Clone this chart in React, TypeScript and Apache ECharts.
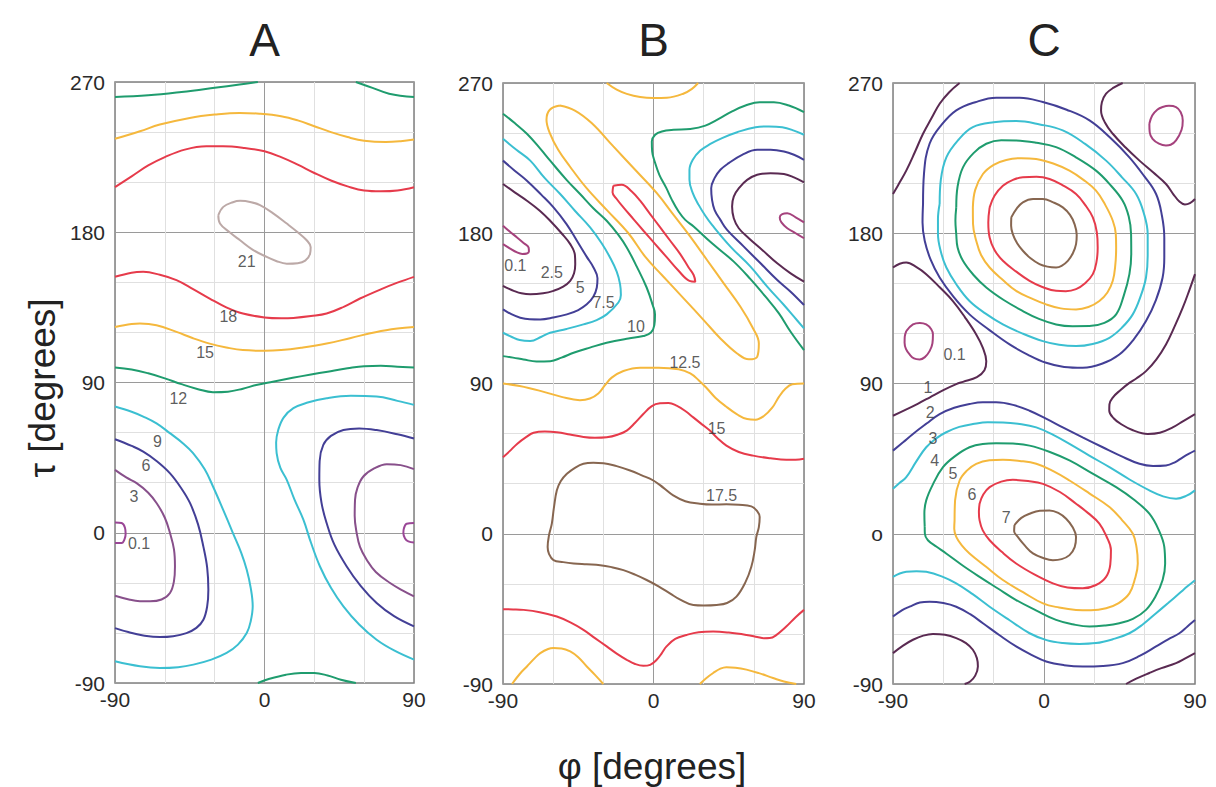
import React, { useEffect, useRef } from 'react';
import * as echarts from 'echarts';

type Pt = [number, number];

// ---------- axis / tick data ----------
const panelTitles = ['A', 'B', 'C'];
const xTickValues = [-90, 0, 90];
const yTickValues = [-90, 0, 90, 180, 270];
const yZeroTextByPanel = ['0', '0', 'o'];
const xAxisTitle = 'φ [degrees]';
const yAxisTitle = 'τ [degrees]';

// ---------- Panel A contours (φ, τ in degrees) ----------
const A_12_topLeft: Pt[] = [[-90, 261], [-70, 262], [-50, 264], [-30, 266.5], [-15, 268.5], [-4, 270]];
const A_12_topRight: Pt[] = [[55, 270], [65, 266.5], [75, 263], [90, 261]];
const A_15_top: Pt[] = [[-90, 236], [-75, 240.5], [-63, 244.5], [-45, 248.5], [-30, 250.5], [-15, 251.5], [-3, 251], [10, 249.5], [20, 247], [30, 243.5], [40, 240], [50, 237], [60, 234.8], [73, 234], [82, 234.5], [90, 235.5]];
const A_18_top: Pt[] = [[-90, 207], [-80, 213.5], [-70, 220], [-60, 225], [-48, 229.5], [-35, 231.5], [-25, 231.5], [-12, 230.5], [0, 228.5], [10, 225], [20, 220.5], [30, 215.5], [40, 211], [50, 207.5], [60, 205], [70, 204.5], [80, 205], [90, 207]];
const A_21_loop: Pt[] = [[-27.8, 190.2], [-24.8, 195.2], [-19, 198], [-14.7, 198.8], [-8, 198], [-2.7, 196.2], [5, 191.5], [13.4, 185.2], [20, 180], [25.4, 175.2], [27.8, 171], [27.4, 167], [24.5, 163], [20, 161.5], [13.4, 161.2], [7, 162.8], [1.3, 165.2], [-7, 169.5], [-14.7, 175.2], [-21, 180], [-26.8, 185.2], [-27.8, 190.2]];
const A_18_bottom: Pt[] = [[-90, 153.3], [-80, 155.8], [-73, 156.3], [-63, 154.5], [-53, 151.3], [-43, 146], [-33, 140.3], [-23, 135], [-13, 131.3], [0, 129], [10, 128.5], [17.4, 128.7], [28, 129.8], [37.4, 131.3], [48, 135.5], [57.5, 140.3], [70, 145.8], [80, 149.8], [90, 153.3]];
const A_15_bottom: Pt[] = [[-90, 123.3], [-80, 125], [-75, 125.3], [-65, 124.3], [-53, 120.3], [-43, 116.5], [-33, 113.3], [-23, 111], [-13, 109.4], [0, 109], [10, 109.4], [22, 110.8], [37.4, 113.3], [52, 116.7], [67.5, 120.3], [80, 122.3], [90, 123.3]];
const A_12_mid: Pt[] = [[-90, 99], [-80, 97.8], [-70, 95.5], [-60, 92.5], [-50, 89], [-40, 86], [-31, 84.2], [-22, 84.5], [-13, 86.3], [-5, 88.5], [5, 90.5], [17, 92.8], [28, 94.8], [38, 96.5], [50, 98.5], [60, 99.8], [70, 100], [80, 99.5], [90, 99]];
const A_12_bottom: Pt[] = [[-4, -90], [3, -87.5], [13, -85], [22, -84], [30, -84], [38, -85.5], [46, -88], [55, -90]];
const A_9_left: Pt[] = [[-90, 75.6], [-80, 72.5], [-73, 69.6], [-65, 65.5], [-57, 59.7], [-49, 53.5], [-43, 47.7], [-36, 38], [-31, 27.7], [-25, 14], [-19, -0.2], [-14, -12], [-10.7, -22.2], [-8.3, -33], [-7.1, -44.1], [-8.3, -53], [-10.7, -60.1], [-16, -67], [-22.8, -72], [-32, -76], [-42.8, -79], [-52, -80.5], [-63, -81], [-75, -80], [-90, -77]];
const A_9_right: Pt[] = [[90, 76.6], [80, 79], [67.5, 81.6], [52, 82], [37.4, 80.6], [26, 78], [17.4, 74.6], [11.5, 69], [8.3, 61.7], [7, 54], [7.3, 47.7], [9.5, 39], [13.4, 31.7], [18, 20], [23.4, 7.8], [28, -6], [33.4, -20.2], [40, -33], [47.5, -44.1], [57, -55], [67.5, -64.1], [78, -70.5], [90, -76]];
const A_6_left: Pt[] = [[-90, 56], [-80, 52], [-73, 48.6], [-65, 43], [-57, 35.7], [-50, 26.5], [-44.8, 17.7], [-40, 5], [-36.8, -8.3], [-34.5, -21], [-33.8, -34.1], [-34.5, -44], [-36.8, -52.1], [-41, -57], [-47, -60.1], [-55, -62], [-63, -62.5], [-73, -61.5], [-82, -59.5], [-90, -57.1]];
const A_6_right: Pt[] = [[90, 56.5], [80, 59], [67.5, 61.5], [57, 62.5], [47.5, 61.5], [40, 58], [35.4, 52.6], [33.2, 43], [33, 31.7], [34.3, 18], [37.4, 5.8], [42, -7], [49.5, -20.2], [58, -32], [67.5, -42.1], [78, -50], [90, -56.1]];
const A_3_left: Pt[] = [[-90, 37.7], [-83, 33], [-77, 29.7], [-70, 24], [-64.9, 17.7], [-60, 9], [-56.9, -0.2], [-54.5, -10], [-53.9, -20.2], [-54.5, -29], [-56.9, -36.1], [-62, -40], [-68.9, -41.1], [-75, -41], [-81, -40.1], [-90, -37.7]];
const A_3_right: Pt[] = [[90, 38.1], [82, 40.5], [73.6, 41.1], [66, 38.5], [59.5, 33.7], [56, 27], [54.5, 19.7], [54.3, 10], [55.5, -0.2], [57.5, -8.5], [61.5, -16.2], [67, -23.5], [75.6, -30.1], [83, -34.5], [90, -38.1]];
const A_01_left: Pt[] = [[-90, 6.2], [-86, 5.8], [-84, 3], [-83.6, -0.6], [-84.3, -4], [-86, -6.2], [-90, -6.2]];
const A_01_right: Pt[] = [[90, 5.8], [85.6, 5.4], [83.9, 2.5], [83.6, -0.2], [84.6, -3.5], [86.6, -5.2], [90, -5.8]];
const A_labels: [number, number, string][] = [[-10.7, 162.2, '21'], [-21.8, 129.7, '18'], [-35.8, 107.8, '15'], [-51.9, 80.2, '12'], [-64.5, 54.7, '9'], [-71.3, 40.1, '6'], [-78.6, 21.8, '3'], [-75.5, -6.6, '0.1']];

// ---------- Panel B contours ----------
const B_125_top: Pt[] = [[-28, 270], [-22, 266], [-16, 263.5], [-8, 261.6], [0, 261], [8, 261.2], [17.8, 263.6], [23, 266.5], [26.7, 270]];
const B_125_loop: Pt[] = [[-56, 256.5], [-47, 253.5], [-37, 246], [-24, 232], [-10, 217], [2, 204], [12, 191], [22, 178], [32, 164], [42, 150], [52, 136], [59, 124], [63, 114], [62, 106], [57, 104.5], [50, 108], [40, 117], [30, 128], [18, 141], [5, 155], [-5, 166], [-15, 180], [-28, 194], [-40, 207], [-50, 220], [-57, 230], [-62, 240], [-64, 248], [-62, 254], [-56, 256.5]];
const B_15_loop: Pt[] = [[-24, 208.5], [-19, 209.1], [-13, 205], [-8, 199.5], [-2, 191.5], [4, 183.5], [10, 175.5], [16, 167.5], [21, 159.5], [24, 155], [25, 151], [21.5, 151.5], [15, 157.5], [8, 165.5], [1, 173.5], [-6, 181.5], [-12, 188.5], [-18, 195.5], [-22, 200.5], [-24.5, 204.5], [-24, 208.5]];
const B_10_left: Pt[] = [[-90, 251.6], [-83, 246], [-75.7, 239.6], [-68, 231], [-61.8, 223.5], [-52, 212], [-43.9, 203.5], [-36, 195], [-28, 187.5], [-21, 179], [-16, 171.5], [-10, 160], [-4.1, 147.5], [-0.5, 137], [0.9, 131.4], [0.5, 125], [-1.5, 120.5], [-6.1, 118.4], [-15, 117], [-28, 114.4], [-38, 111.5], [-47.8, 108.4], [-55, 105.5], [-61.8, 103.4], [-70, 103.2], [-77.7, 104.4], [-84, 105.5], [-90, 106.4]];
const B_75_left: Pt[] = [[-90, 236.6], [-82, 230], [-73.7, 223.5], [-65, 213], [-55.8, 203.5], [-47, 193.5], [-37.9, 183.5], [-31, 174], [-26, 165.5], [-22, 157], [-20, 149.5], [-19.5, 143], [-21, 138.5], [-28, 131.4], [-34, 128], [-41.9, 125.4], [-52, 122.7], [-61.8, 120.4], [-67, 118], [-73.7, 115.4], [-80, 116], [-85, 118], [-90, 120.4]];
const B_5_left: Pt[] = [[-90, 223.5], [-83, 217.5], [-75.7, 211.5], [-67, 203], [-59.8, 195.5], [-52, 185.5], [-45.8, 175.5], [-40, 166], [-35.9, 159.5], [-33.5, 153], [-33.9, 147.5], [-36, 142], [-39.9, 137.4], [-45, 134], [-51.8, 131.4], [-60, 129.5], [-67.7, 128.4], [-74, 128.5], [-79.7, 129.4], [-85, 131.5], [-90, 134.4]];
const B_25_left: Pt[] = [[-90, 209.5], [-83, 204.5], [-75.7, 199.5], [-68, 193.5], [-61.8, 187.5], [-55, 180], [-49.8, 173.5], [-47, 167], [-46.8, 161.5], [-47.5, 156], [-49.8, 151.5], [-54, 148], [-59.8, 145.5], [-66, 144], [-73.7, 143.4], [-79, 144], [-83.6, 145.5], [-87, 147], [-90, 148.5]];
const B_01_left: Pt[] = [[-90, 184.5], [-86, 181], [-81.6, 177.5], [-77.5, 174], [-74.7, 171.5], [-74.5, 169], [-75.7, 167.9], [-78.5, 167.6], [-81.6, 168.5], [-86, 171], [-90, 173.5]];
const B_10_right: Pt[] = [[90, 252.6], [81, 256.5], [72, 258.5], [63.5, 258.5], [55, 256.5], [47, 253], [39, 248.5], [31, 244.5], [22, 242.5], [12, 242], [5, 241], [1, 239], [-1, 235], [-0.8, 229], [0.7, 223], [3.5, 215], [7.7, 207], [11, 200], [15, 193], [19, 188], [24, 184], [35, 174], [48, 163], [58, 152.5], [67, 142], [75, 132], [82, 121], [90, 110]];
const B_75_right: Pt[] = [[90, 239], [84, 241.5], [77, 243.5], [69, 244], [61, 243.5], [50, 240.5], [41, 237], [34, 233.5], [28, 229.5], [23.5, 224], [21.5, 218], [21.5, 212], [23.5, 204], [27, 197], [31, 190.5], [35, 185], [46, 172], [58, 160], [68, 148], [78, 137], [84, 130], [90, 123]];
const B_5_right: Pt[] = [[90, 224], [84, 227], [78, 229], [70, 230], [62, 230], [53, 227], [45, 222], [40, 218], [36.5, 213], [34.5, 207], [35, 200], [36.5, 194], [40, 188], [44, 182], [54, 172], [64, 162], [74, 152], [82, 145], [90, 137]];
const B_25_right: Pt[] = [[90, 210.5], [84, 213.5], [78, 215.5], [70, 216], [62, 215], [56, 212], [51.5, 207.5], [48, 202], [47, 196], [48, 189], [51, 183], [57, 177], [65, 170], [74, 162], [82, 156], [90, 151]];
const B_01_right: Pt[] = [[90, 186.5], [85, 189.5], [80, 192], [77, 191.5], [75.5, 189.5], [76.5, 186.5], [80, 183], [85, 180], [90, 177]];
const B_125_mid: Pt[] = [[-90, 90], [-80, 88.5], [-67.7, 85.6], [-55, 82], [-44, 80], [-38, 81], [-33, 84], [-29, 89], [-25, 93.5], [-18, 97.5], [-8, 99.5], [3, 99.5], [15, 98.5], [22, 96], [27, 92], [32, 87], [37, 81.5], [43, 76.5], [50, 71.5], [56, 68.7], [61, 68.3], [66, 70.5], [71, 75.5], [75, 82], [79, 87], [83, 89.5], [90, 90]];
const B_15_mid: Pt[] = [[-90, 45.8], [-86, 49.5], [-81.6, 53.8], [-76, 58], [-71.7, 60.5], [-65, 61.2], [-57.8, 60.8], [-50, 59.5], [-41.9, 58], [-35, 57.5], [-28, 57.8], [-21, 59.5], [-16, 61.8], [-11, 66.5], [-6.1, 71.7], [-1, 76.5], [3.9, 78.1], [9, 78.3], [13.8, 76.7], [19, 73.5], [23.8, 69.7], [29, 65.5], [33.7, 61.8], [38, 57.5], [43.6, 52.8], [51, 49], [59.6, 46.8], [70, 45.2], [79.4, 44.3], [85, 44.3], [90, 44.9]];
const B_175_loop: Pt[] = [[-51.8, 35.9], [-47, 39.5], [-41.9, 41.9], [-36, 42.5], [-29.9, 42.3], [-22, 40.5], [-14, 37.9], [-7, 35], [-0.1, 31.9], [6, 27.5], [11.8, 23], [19, 19.5], [27.7, 18], [35, 17.5], [43.6, 17.6], [51, 17.3], [58.5, 16.4], [62, 13.5], [63.5, 10], [63, 4], [61.5, -1.9], [60.5, -10], [58.5, -19.8], [55, -29], [49.6, -37.7], [44, -41.5], [37.7, -42.7], [30, -43], [23.8, -42.7], [16, -39.5], [9.8, -35.7], [3, -31.5], [-4.1, -27.7], [-11, -24.5], [-18, -21.8], [-25, -20], [-31.9, -18.8], [-40, -18.3], [-47.8, -17.8], [-54, -17], [-59.8, -15.8], [-62.5, -12], [-63.3, -7.9], [-62.5, -1], [-60.8, 6.1], [-59.5, 16], [-57.8, 26], [-55.5, 31.5], [-51.8, 35.9]];
const B_15_bottom: Pt[] = [[-90, -45.2], [-84, -45.3], [-77.7, -45.6], [-68, -47], [-57.8, -49.6], [-50, -53], [-41.9, -57.6], [-35, -62.5], [-28, -67.5], [-22, -71.8], [-16, -75.5], [-11, -78], [-6.1, -79.1], [-2, -78.5], [1.9, -75.5], [5, -71.5], [7.8, -67.5], [13, -63], [19.8, -60.6], [27, -59], [35.7, -58.6], [45, -59.2], [55.6, -60.6], [62, -61.8], [66, -62.6], [69.5, -62.5], [73, -61], [79.4, -55.6], [85, -50], [90, -45.6]];
const B_125_bottomLeft: Pt[] = [[-84.6, -90], [-80, -84], [-75.7, -79.5], [-71, -74.5], [-67.7, -71.5], [-63, -69], [-59.8, -68.5], [-55, -68.7], [-49.8, -70.5], [-45, -74], [-39.9, -79.5], [-35, -84.5], [-30, -90]];
const B_125_bottomRight: Pt[] = [[27.7, -90], [31.5, -86.5], [35.7, -83.4], [40, -80.8], [43.6, -79.9], [49, -80.2], [55.6, -81.4], [63, -83.5], [71.5, -86.4], [78, -88.5], [85.4, -90]];
const B_labels: [number, number, string][] = [[-82.6, 160.5, '0.1'], [-60.8, 156.5, '2.5'], [-43.9, 147.5, '5'], [-29.9, 138.4, '7.5'], [-10.5, 124.1, '10'], [18.8, 102.4, '12.5'], [37.7, 62.8, '15'], [40.7, 23, '17.5']];

// ---------- Panel C contours ----------
const C_7_top: Pt[] = [[-19.5, 189.5], [-16.5, 194.5], [-12.6, 198.5], [-6.5, 200.5], [-0.7, 200.5], [5.5, 198.5], [11.2, 195.5], [15.5, 191], [18.2, 185.5], [19.5, 179], [19.1, 173.5], [17.2, 168], [14.2, 163.5], [10.5, 160.5], [7.2, 159.5], [2, 160], [-2.7, 161.5], [-8, 165], [-12.6, 169.5], [-16, 174], [-18.6, 179.5], [-19.6, 184.5], [-19.5, 189.5]];
const C_6_top: Pt[] = [[-32.4, 195.5], [-29.5, 202.5], [-24.5, 208.5], [-18.5, 212], [-12.6, 213.5], [-4.5, 213.8], [3.3, 212.5], [11.5, 208.5], [19.1, 203.5], [24.5, 197], [29.1, 189.5], [31.5, 180.5], [32, 171.5], [31.3, 163], [29.1, 155.5], [24.5, 150], [19.1, 146.5], [13, 145.3], [7.2, 145.5], [-1, 147.8], [-8.6, 151.5], [-16.5, 157], [-24.5, 163.5], [-29.5, 170], [-32.4, 177.5], [-33.2, 186.5], [-32.4, 195.5]];
const C_5_top: Pt[] = [[-42.4, 195.5], [-41, 206], [-36.4, 215.5], [-30, 221], [-22.5, 223.9], [-13.5, 225], [-4.7, 224.5], [5.5, 221.8], [15.2, 217.5], [23.5, 212], [31, 205.5], [36.5, 197], [41, 187.5], [42.8, 179.5], [43, 171.5], [42.5, 161], [41, 151.5], [37.8, 144.5], [33, 139.4], [26.5, 135.8], [19.1, 134.4], [10, 135], [1.3, 137.4], [-7.5, 141], [-16.6, 145.5], [-24.5, 152], [-32.4, 159.5], [-37.5, 167], [-40.4, 175.5], [-42.3, 185.5], [-42.4, 195.5]];
const C_4_top: Pt[] = [[-52.3, 195.5], [-51.5, 208], [-48.3, 219.5], [-42, 228], [-34.4, 233.6], [-25.5, 235.7], [-16.6, 235.6], [-4.5, 234.2], [7.2, 231.6], [19, 225.5], [31, 217.5], [39.5, 209], [46.9, 199.5], [50.5, 190], [51.9, 179.5], [52, 167.5], [50.9, 155.5], [47.5, 142.5], [43, 131.4], [36, 126.3], [27.1, 124.4], [17, 124.3], [7.2, 125.4], [-3, 128.7], [-12.6, 133.4], [-24, 140], [-34.4, 147.5], [-42, 155], [-48.3, 163.5], [-51.5, 171.5], [-52.3, 179.5], [-52.8, 187.5], [-52.3, 195.5]];
const C_3_top: Pt[] = [[-62.2, 197.5], [-61.5, 212], [-58.2, 225.5], [-51, 236], [-42.4, 243.6], [-30, 246.5], [-16.6, 247.2], [-2.5, 245.2], [11.2, 241.6], [24.5, 233.5], [37, 223.5], [46.5, 213.5], [54.9, 203.5], [59.5, 192], [61.8, 179.5], [61.8, 166.5], [60.8, 153.5], [57.5, 142], [52.9, 131.4], [46.5, 123.5], [39, 117.4], [29, 113.7], [19.1, 112.4], [9, 113.2], [-0.7, 115.4], [-12.5, 119.8], [-24.5, 125.4], [-35, 132], [-44.4, 139.4], [-52, 149], [-58.2, 159.5], [-61.5, 169], [-63.2, 179.5], [-63.2, 188.5], [-62.2, 197.5]];
const C_2_top: Pt[] = [[-72.1, 197.5], [-71.5, 216], [-68.2, 233.6], [-61, 245], [-52.3, 253.6], [-41, 258.5], [-28.5, 261.2], [-14.5, 261.2], [-0.7, 258.6], [13.5, 254], [27.1, 247.6], [39.5, 237.2], [50.9, 225.5], [59.5, 214.5], [66.8, 203.5], [70.3, 190.5], [71.7, 177.5], [71.7, 165.5], [70.7, 153.5], [66.7, 140], [60.8, 127.4], [53.5, 116.5], [44.9, 107.4], [34.5, 101.8], [23.1, 99.4], [12, 99.9], [1.3, 102.4], [-9.5, 107.2], [-20.5, 113.4], [-32.5, 122], [-44.4, 131.4], [-54, 142], [-62.2, 153.5], [-67.5, 164], [-71.1, 175.5], [-72.4, 186.5], [-72.1, 197.5]];
const C_1_topLeft: Pt[] = [[-90, 203.5], [-86, 210.5], [-82.1, 217.5], [-77, 228.5], [-72.1, 239.6], [-67, 249], [-62.2, 257.6], [-56.5, 264.5], [-50.3, 270]];
const C_1_topRight: Pt[] = [[46.9, 270], [41.5, 267.2], [37, 263.6], [34.5, 258.5], [34, 253.6], [36.5, 246], [41, 239.6], [48.5, 231.5], [56.9, 223.5], [65, 216.5], [72.7, 209.5], [77, 203.5], [80.7, 199], [84, 197.2], [87, 198], [90, 200.5]];
const C_01_topRight: Pt[] = [[62.8, 245.6], [64.5, 250.5], [67.5, 254], [70.7, 255.6], [74.5, 256.3], [78.7, 255.6], [81.5, 252.5], [82.7, 247.6], [82, 242], [78.7, 235.6], [75.5, 233], [72.7, 232.6], [68.5, 233.7], [64.7, 236.6], [63, 240.5], [62.8, 245.6]];
const C_1_midLeft: Pt[] = [[-90, 159.5], [-86, 161.7], [-82.1, 162.5], [-76, 159.7], [-70.2, 155.5], [-62, 147.5], [-54.3, 139.4], [-47, 129.5], [-40.4, 119.4], [-36.5, 111.5], [-34.4, 103.4], [-35.5, 98], [-40, 93.8], [-48.3, 91], [-52.3, 89.6], [-60, 86], [-68.2, 81.6], [-75, 78], [-82, 74.5], [-90, 70.7]];
const C_01_midLeft: Pt[] = [[-82.1, 121.4], [-78.1, 125.4], [-74, 126.3], [-70.2, 125.4], [-67.2, 122.5], [-66.2, 119.4], [-66.5, 114], [-68.2, 109.4], [-71, 105.8], [-74.1, 104.4], [-77.5, 105], [-80.1, 107.4], [-82.3, 110.8], [-83.1, 114.4], [-83, 118], [-82.1, 121.4]];
const C_1_midRight: Pt[] = [[90, 155.5], [86.5, 145.5], [82.7, 135.4], [78, 124.5], [72.7, 113.4], [67, 104.5], [60.8, 97.4], [55, 93], [50.9, 90.4], [45.5, 86], [41, 81.6], [39, 77.5], [38.9, 73.7], [41.5, 69.2], [45.9, 65.7], [53, 62], [61.8, 59.8], [69, 60.5], [76.7, 63.7], [83, 67.5], [90, 71.7]];
const C_7_bottom: Pt[] = [[-17.6, 5.2], [-13.5, 9.5], [-8.6, 12], [-2.5, 13.8], [3.3, 14], [8.5, 12.5], [13.2, 9], [17, 4], [19.1, -2], [18.3, -8], [15.2, -12.8], [10.5, -15.2], [5.3, -15.8], [-0.5, -14.5], [-6.6, -11.8], [-11.5, -7], [-15.6, -1.9], [-17.8, 1.5], [-17.6, 5.2]];
const C_6_bottom: Pt[] = [[-38.4, 18], [-36.2, 23.5], [-32.4, 27.9], [-25.5, 31.2], [-18.6, 32.3], [-9.5, 31.6], [-0.6, 29.9], [9.5, 25], [19.1, 18], [26.5, 12.2], [33, 6.1], [37.2, -1.5], [39.9, -9.8], [39.5, -18.5], [37, -25.8], [31, -30.7], [23.1, -32.7], [14, -32.2], [5.3, -29.7], [-5.5, -24.5], [-16.6, -17.8], [-25, -11], [-32.4, -3.9], [-36.5, 2], [-38.4, 8], [-38.8, 13], [-38.4, 18]];
const C_5_bottom: Pt[] = [[-53.3, 8], [-53, 20], [-50.3, 31.9], [-46, 37.8], [-40.4, 41.9], [-32.5, 44], [-24.5, 44.3], [-14.5, 43.6], [-4.6, 41.9], [5.5, 37.5], [15.2, 31.9], [27, 24.2], [39, 16], [46.5, 8.2], [52.9, 0.1], [55.2, -8.5], [55.9, -17.8], [54.2, -27], [50.9, -35.7], [44.5, -41.5], [37, -44.6], [28, -45.8], [19.1, -45.6], [9, -44.2], [-0.6, -41.7], [-12.5, -35], [-24.5, -27.7], [-34.5, -19.8], [-44.4, -11.8], [-49, -7], [-52.3, -1.9], [-53.5, 3], [-53.3, 8]];
const C_4_bottom: Pt[] = [[-71.1, 4.1], [-71.3, 12], [-70.2, 20], [-66, 30], [-60.2, 39.9], [-53, 46.5], [-44.4, 51.8], [-36.5, 53.8], [-28.5, 54.2], [-18.5, 54], [-8.6, 52.8], [3.5, 49], [15.2, 43.9], [29, 36], [43, 27.9], [53.5, 20.5], [62.8, 12], [68.5, 2], [71.7, -7.9], [72.2, -18], [70.7, -27.7], [66.5, -37.5], [60.8, -45.6], [53, -51], [44.9, -53.6], [36, -55], [27.1, -55.6], [17, -54.2], [7.2, -51.6], [-4.5, -46], [-16.6, -39.7], [-27.5, -32.8], [-38.4, -25.8], [-48.5, -19], [-58.3, -11.8], [-64, -7.8], [-69.2, -3.9], [-71, 0], [-71.1, 4.1]];
const C_3_upper: Pt[] = [[-90, 27], [-86, 30.5], [-82.1, 33.9], [-76, 43.5], [-70.2, 51.8], [-64, 57.3], [-58.3, 60.8], [-50.5, 64], [-42.4, 65.7], [-33.5, 66.8], [-24.5, 66.7], [-14.5, 65.8], [-4.6, 63.7], [5.5, 59.2], [15.2, 53.8], [27, 46.8], [39, 39.9], [51, 32.5], [62.8, 26], [71, 22.4], [78.7, 21], [85, 22.8], [90, 26]];
const C_3_lower: Pt[] = [[-90, -25.8], [-86, -23.8], [-82.1, -22.8], [-76, -22.4], [-70.2, -22.8], [-61, -25.5], [-52.3, -29.7], [-42.5, -36.2], [-32.4, -43.7], [-20.5, -51.8], [-8.6, -59.6], [1.5, -63.7], [11.2, -65.5], [21, -66], [31, -65.5], [41, -63.2], [50.9, -59.6], [59, -54.2], [66.8, -47.6], [74, -41.5], [80.7, -35.7], [85.5, -31.5], [90, -27.8]];
const C_2_upper: Pt[] = [[-90, 49.8], [-84, 54.8], [-78.1, 59.8], [-70, 66], [-62.2, 71.7], [-53.5, 75.5], [-44.4, 77.7], [-36.5, 78.7], [-28.5, 78.7], [-18.5, 77.2], [-8.6, 73.7], [1.5, 68.8], [11.2, 63.7], [23, 57.7], [35, 51.8], [46, 46.5], [56.9, 41.9], [65, 40.6], [72.7, 40.9], [78, 42.8], [82.7, 45.8], [86.5, 48], [90, 49.8]];
const C_2_lower: Pt[] = [[-90, -49.6], [-84.5, -45.7], [-80.1, -43.7], [-74, -41.2], [-68.2, -40.7], [-60, -41.5], [-52.3, -43.7], [-44, -48.2], [-36.4, -53.6], [-26.5, -60.8], [-16.6, -67.5], [-7.5, -72.5], [1.3, -76.5], [12, -78.7], [23.1, -79.5], [35, -79.2], [46.9, -77.5], [57, -73.2], [66.8, -67.5], [74, -63.2], [80.7, -59.6], [85.5, -55.5], [90, -51.6]];
const C_1_bottomLeft: Pt[] = [[-90, -71.5], [-84, -67], [-78.1, -63.5], [-72, -61], [-66.2, -60], [-59, -60.5], [-52.3, -62.5], [-46.5, -65.5], [-42.4, -69.5], [-40, -74.5], [-39.4, -79.5], [-41, -85], [-44, -88.5], [-47.3, -90]];
const C_1_bottomRight: Pt[] = [[48.9, -90], [55, -86.8], [62.8, -83.4], [70, -80.5], [78.7, -77.5], [84.5, -74.5], [90, -71.5]];
const C_labels: [number, number, string][] = [[-53.3, 107.4, '0.1'], [-69.2, 87.6, '1'], [-67.8, 72.7, '2'], [-66.2, 56.8, '3'], [-65.2, 43.9, '4'], [-54.3, 36.3, '5'], [-43, 23.4, '6'], [-22.5, 10, '7']];

// ---------- styles ----------
const FONT = '"Liberation Sans", Arial, Helvetica, sans-serif';
const GREEN = '#1f9c6e';
const YELLOW = '#f5b83d';
const RED = '#e63b4b';
const CYAN = '#3bbfd1';
const INDIGO = '#433f96';
const PLUM = '#5a2a52';
const MAUVE = '#88508b';
const MAGENTA = '#a5427d';
const PURPLE01 = '#9a4796';
const BROWN = '#876650';
const TAUPE = '#bca9a7';
const GRID_MAJOR = '#9a9a9a';
const GRID_MINOR = '#e0e0e0';

const panelContours: { pts: Pt[]; color: string }[][] = [
  [
    { pts: A_12_topLeft, color: GREEN }, { pts: A_12_topRight, color: GREEN }, { pts: A_15_top, color: YELLOW },
    { pts: A_18_top, color: RED }, { pts: A_21_loop, color: TAUPE }, { pts: A_18_bottom, color: RED },
    { pts: A_15_bottom, color: YELLOW }, { pts: A_12_mid, color: GREEN }, { pts: A_12_bottom, color: GREEN },
    { pts: A_9_left, color: CYAN }, { pts: A_9_right, color: CYAN }, { pts: A_6_left, color: INDIGO },
    { pts: A_6_right, color: INDIGO }, { pts: A_3_left, color: MAUVE }, { pts: A_3_right, color: MAUVE },
    { pts: A_01_left, color: PURPLE01 }, { pts: A_01_right, color: PURPLE01 },
  ],
  [
    { pts: B_125_top, color: YELLOW }, { pts: B_125_loop, color: YELLOW }, { pts: B_15_loop, color: RED },
    { pts: B_10_left, color: GREEN }, { pts: B_75_left, color: CYAN }, { pts: B_5_left, color: INDIGO },
    { pts: B_25_left, color: PLUM }, { pts: B_01_left, color: MAGENTA }, { pts: B_10_right, color: GREEN },
    { pts: B_75_right, color: CYAN }, { pts: B_5_right, color: INDIGO }, { pts: B_25_right, color: PLUM },
    { pts: B_01_right, color: MAGENTA }, { pts: B_125_mid, color: YELLOW }, { pts: B_15_mid, color: RED },
    { pts: B_175_loop, color: BROWN }, { pts: B_15_bottom, color: RED }, { pts: B_125_bottomLeft, color: YELLOW },
    { pts: B_125_bottomRight, color: YELLOW },
  ],
  [
    { pts: C_7_top, color: BROWN }, { pts: C_6_top, color: RED }, { pts: C_5_top, color: YELLOW },
    { pts: C_4_top, color: GREEN }, { pts: C_3_top, color: CYAN }, { pts: C_2_top, color: INDIGO },
    { pts: C_1_topLeft, color: PLUM }, { pts: C_1_topRight, color: PLUM }, { pts: C_01_topRight, color: MAGENTA },
    { pts: C_1_midLeft, color: PLUM }, { pts: C_01_midLeft, color: MAGENTA }, { pts: C_1_midRight, color: PLUM },
    { pts: C_7_bottom, color: BROWN }, { pts: C_6_bottom, color: RED }, { pts: C_5_bottom, color: YELLOW },
    { pts: C_4_bottom, color: GREEN }, { pts: C_3_upper, color: CYAN }, { pts: C_3_lower, color: CYAN },
    { pts: C_2_upper, color: INDIGO }, { pts: C_2_lower, color: INDIGO }, { pts: C_1_bottomLeft, color: PLUM },
    { pts: C_1_bottomRight, color: PLUM },
  ],
];
const panelLabels = [A_labels, B_labels, C_labels];

const grids = [
  { left: 115, top: 82, width: 299, height: 601 },
  { left: 503, top: 83, width: 301, height: 601 },
  { left: 893, top: 83, width: 302, height: 601 },
];
const titleY = 40;

function buildOption() {
  const series: any[] = [];
  panelContours.forEach((list, gi) => {
    list.forEach((c) => {
      series.push({
        type: 'line', xAxisIndex: gi, yAxisIndex: gi, data: c.pts, smooth: 0.4,
        showSymbol: false, symbol: 'none', silent: true, clip: true, z: 3,
        lineStyle: { color: c.color, width: 2 },
        emphasis: { disabled: true },
      });
    });
    series.push({
      type: 'scatter', xAxisIndex: gi, yAxisIndex: gi, symbolSize: 0, silent: true, z: 5,
      data: panelLabels[gi].map((l) => ({ value: [l[0], l[1]], name: l[2] })),
      label: { show: true, position: 'inside', formatter: '{b}', fontSize: 16, color: '#333', fontFamily: FONT },
      emphasis: { disabled: true },
    });
  });

  const graphic: any[] = [];
  grids.forEach((g, i) => {
    graphic.push({
      type: 'text', x: g.left + g.width / 2, y: titleY, silent: true,
      style: { text: panelTitles[i], fontSize: 46, fontFamily: FONT, fill: '#222', textAlign: 'center', textVerticalAlign: 'middle' },
    });
  });
  graphic.push({
    type: 'text', x: 652, y: 766, silent: true,
    style: { text: xAxisTitle, fontSize: 37, fontFamily: FONT, fill: '#222', textAlign: 'center', textVerticalAlign: 'middle' },
  });
  graphic.push({
    type: 'text', x: 42, y: 388, rotation: Math.PI / 2, silent: true,
    style: { text: yAxisTitle, fontSize: 37, fontFamily: FONT, fill: '#222', textAlign: 'center', textVerticalAlign: 'middle' },
  });

  return {
    animation: false,
    backgroundColor: '#ffffff',
    grid: grids.map((g) => ({ ...g, show: true, borderColor: '#808080', borderWidth: 1.5, backgroundColor: 'transparent' })),
    xAxis: grids.map((_, i) => ({
      type: 'value', gridIndex: i, min: -90, max: 90, interval: 30,
      axisLine: { show: false }, axisTick: { show: false },
      axisLabel: {
        margin: 6, fontSize: 21, color: '#2a2a2a', fontFamily: FONT,
        formatter: (v: number) => (xTickValues.includes(Math.round(v)) ? String(Math.round(v)) : ''),
      },
      splitLine: { show: true, lineStyle: { color: [GRID_MAJOR, GRID_MINOR, GRID_MINOR], width: 1 } },
    })),
    yAxis: grids.map((_, i) => ({
      type: 'value', gridIndex: i, min: -90, max: 270, interval: 30,
      axisLine: { show: false }, axisTick: { show: false },
      axisLabel: {
        margin: 10, fontSize: 21, color: '#2a2a2a', fontFamily: FONT,
        formatter: (v: number) => {
          const r = Math.round(v);
          if (!yTickValues.includes(r)) return '';
          return r === 0 ? yZeroTextByPanel[i] : String(r);
        },
      },
      splitLine: { show: true, lineStyle: { color: [GRID_MAJOR, GRID_MINOR, GRID_MINOR], width: 1 } },
    })),
    series,
    graphic,
  };
}

export default function App() {
  const ref = useRef<HTMLDivElement>(null);
  useEffect(() => {
    if (!ref.current) return;
    const chart = echarts.init(ref.current, undefined, { renderer: 'svg' });
    chart.setOption(buildOption() as any);
    return () => chart.dispose();
  }, []);
  return (
    <div
      ref={ref}
      style={{ position: 'fixed', left: 0, top: 0, width: 1216, height: 787, background: '#fff' }}
    />
  );
}
